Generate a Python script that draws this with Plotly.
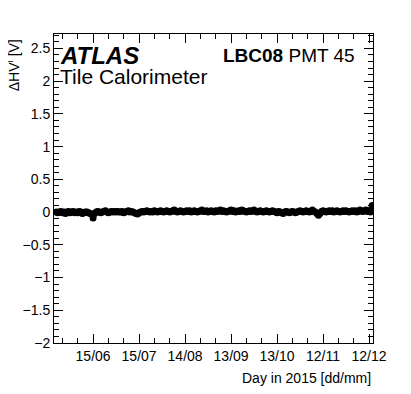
"""ΔHV time series for a single PMT (LBC08 PMT 45), ATLAS Tile Calorimeter, 2015."""

import pandas as pd
import plotly.graph_objects as go

# ── data: one measurement per day, 22/05 → 14/12 ──
start_day = "2015-05-22"
may_vals = [0.00, -0.01, 0.00, 0.01, -0.01, 0.00, -0.02, 0.00, 0.01, -0.01]
jun_vals = [0.00, 0.01, -0.01, 0.00, -0.01, 0.01, 0.00, -0.02, -0.01, 0.00,
            0.00, -0.01, -0.02, -0.03, -0.09, -0.02, 0.00, 0.01, 0.00, -0.01,
            0.00, 0.01, 0.02, 0.00, -0.01, 0.00, 0.01, 0.00, 0.01, 0.00]
jul_vals = [0.01, 0.00, 0.00, 0.01, -0.01, 0.00, 0.01, 0.02, 0.00, 0.01,
            0.00, -0.01, -0.02, -0.03, -0.01, 0.00, 0.01, 0.00, 0.01, 0.02,
            0.01, 0.00, 0.01, 0.00, 0.02, 0.01, 0.00, 0.01, 0.02, 0.01, 0.00]
aug_vals = [0.01, 0.02, 0.01, 0.00, 0.01, 0.02, 0.03, 0.01, 0.00, 0.01,
            0.02, 0.01, 0.00, 0.01, 0.02, 0.01, 0.02, 0.00, 0.01, 0.02,
            0.01, 0.00, 0.01, 0.02, 0.03, 0.01, 0.01, 0.02, 0.00, 0.01, 0.02]
sep_vals = [0.01, 0.00, 0.02, 0.01, 0.02, 0.03, 0.01, 0.02, 0.01, 0.00,
            0.01, 0.02, 0.03, 0.01, 0.02, 0.00, 0.01, 0.02, 0.01, 0.03,
            0.02, 0.01, 0.00, 0.01, 0.02, 0.01, 0.02, 0.03, 0.01, 0.00]
oct_vals = [0.01, 0.02, 0.01, 0.00, 0.01, 0.02, 0.01, 0.00, 0.01, 0.02,
            0.01, 0.00, -0.01, 0.01, 0.00, -0.01, -0.02, 0.00, 0.01, 0.00,
            -0.01, 0.00, 0.01, 0.00, -0.01, 0.00, 0.01, 0.02, 0.01, 0.00, 0.01]
nov_vals = [0.02, 0.01, 0.00, 0.01, 0.03, 0.01, 0.00, -0.02, -0.05, -0.02,
            0.01, 0.02, 0.01, 0.00, 0.01, 0.02, 0.01, 0.02, 0.00, 0.01,
            0.02, 0.01, 0.00, 0.01, 0.02, 0.01, 0.02, 0.01, 0.00, 0.01]
dec_vals = [0.02, 0.01, 0.02, 0.00, 0.01, 0.03, 0.02, 0.01, 0.02, 0.03,
            0.01, 0.02, 0.00, 0.10]

dhv = may_vals + jun_vals + jul_vals + aug_vals + sep_vals + oct_vals + nov_vals + dec_vals
days = pd.date_range(start_day, periods=len(dhv), freq="D")

x_range = ["2015-05-20 12:00", "2015-12-14 14:00"]
y_range = [-2.0, 2.72]

DAY_MS = 86400000
FONT = "Liberation Sans, Arial, sans-serif"

fig = go.Figure()

fig.add_trace(go.Scatter(
    x=days, y=dhv,
    mode="markers",
    marker=dict(size=7, color="black"),
    showlegend=False,
))

axis_common = dict(
    showline=True, linecolor="black", linewidth=1,
    mirror="ticks", ticks="inside", ticklen=9, tickcolor="black",
    showgrid=False, zeroline=False,
    tickfont=dict(family=FONT, size=14, color="black"),
)

fig.update_xaxes(
    **axis_common,
    type="date",
    range=x_range,
    tick0="2015-06-15", dtick=30 * DAY_MS,
    tickformat="%d/%m",
    minor=dict(tick0="2015-06-15", dtick=10 * DAY_MS, ticks="inside",
               ticklen=5, tickcolor="black", showgrid=False),
)
fig.update_yaxes(
    **axis_common,
    range=y_range,
    dtick=0.5,
    minor=dict(dtick=0.1, ticks="inside", ticklen=5, tickcolor="black",
               showgrid=False),
)

# ── labels (ROOT style, placed as annotations) ──
fig.add_annotation(x=0.0125, y=0.929, xref="paper", yref="paper",
                   text="<b><i>ATLAS</i></b>", showarrow=False,
                   xanchor="left", yanchor="middle",
                   font=dict(family=FONT, size=24, color="black"))
fig.add_annotation(x=0.0125, y=0.864, xref="paper", yref="paper",
                   text="Tile Calorimeter", showarrow=False,
                   xanchor="left", yanchor="middle",
                   font=dict(family=FONT, size=21, color="black"))
fig.add_annotation(x=0.95, y=0.929, xref="paper", yref="paper",
                   text="<b>LBC08</b> PMT 45", showarrow=False,
                   xanchor="right", yanchor="middle",
                   font=dict(family=FONT, size=19, color="black"))
fig.add_annotation(x=1.0, y=-0.113, xref="paper", yref="paper",
                   text="Day in 2015 [dd/mm]", showarrow=False,
                   xanchor="right", yanchor="middle",
                   font=dict(family=FONT, size=14, color="black"))
fig.add_annotation(x=-0.128, y=0.99, xref="paper", yref="paper",
                   text="ΔHV<sup>i</sup> [V]", showarrow=False, textangle=-90,
                   xanchor="center", yanchor="top",
                   font=dict(family=FONT, size=14, color="black"))

# page body has an 8px margin, so the figure is sized to fit the window
fig.update_layout(
    width=403, height=386,
    margin=dict(l=46, r=38, t=26, b=51),
    paper_bgcolor="white", plot_bgcolor="white",
    showlegend=False,
)

fig.write_html("out.html")
